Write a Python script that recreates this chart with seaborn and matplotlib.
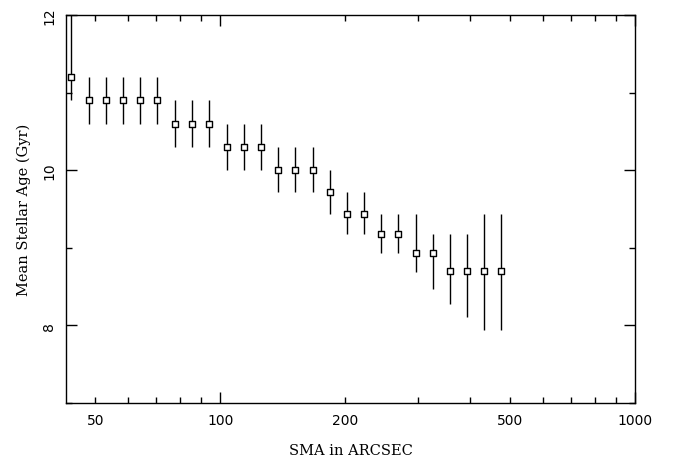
import matplotlib
matplotlib.use("Agg")
import numpy as np
import pandas as pd
import seaborn as sns
import matplotlib.pyplot as plt
from matplotlib.ticker import FixedLocator, FixedFormatter

# data
sma = [43.7, 48.4, 53.1, 58.4, 64.1, 70.5, 77.9, 85.6, 94.1, 103.9, 114.2, 125.5,
       137.9, 151.6, 167.4, 184.0, 202.2, 222.2, 244.3, 268.5, 296.4, 325.8,
       358.1, 393.6, 432.6, 475.5]
age = [11.2, 10.9, 10.9, 10.9, 10.9, 10.9, 10.6, 10.6, 10.6, 10.3, 10.3, 10.3,
       10.0, 10.0, 10.0, 9.72, 9.44, 9.44, 9.18, 9.18, 8.93, 8.93,
       8.70, 8.70, 8.70, 8.70]
age_hi = [12.5, 11.2, 11.2, 11.2, 11.2, 11.2, 10.9, 10.9, 10.9, 10.6, 10.6, 10.6,
          10.3, 10.3, 10.3, 10.0, 9.72, 9.72, 9.44, 9.44, 9.44, 9.18,
          9.18, 9.18, 9.44, 9.44]
age_lo = [10.9, 10.6, 10.6, 10.6, 10.6, 10.6, 10.3, 10.3, 10.3, 10.0, 10.0, 10.0,
          9.72, 9.72, 9.72, 9.44, 9.18, 9.18, 8.93, 8.93, 8.69, 8.47,
          8.28, 8.11, 7.94, 7.94]

xtick_major = [100, 1000]
xtick_minor = [50, 60, 70, 80, 90, 200, 300, 400, 500, 600, 700, 800, 900]
xtick_minor_labels = ["50", "", "", "", "", "200", "", "", "500", "", "", "", ""]
ytick_major = [8, 10, 12]
ytick_minor = [7, 9, 11]

df = pd.DataFrame({"sma": sma, "age": age, "hi": age_hi, "lo": age_lo})

sns.set_style("ticks")
plt.rcParams["font.family"] = ["DejaVu Sans"]
plt.rcParams["text.color"] = "black"
plt.rcParams["axes.labelcolor"] = "black"
plt.rcParams["xtick.color"] = "black"
plt.rcParams["ytick.color"] = "black"

fig = plt.figure(figsize=(6.75, 4.64), dpi=100)
ax = fig.add_axes([66 / 675, 1 - 404 / 464, (635 - 66) / 675, (404 - 16) / 464])

ax.errorbar(df["sma"], df["age"],
            yerr=[df["age"] - df["lo"], df["hi"] - df["age"]],
            fmt="none", ecolor="black", elinewidth=1.0, capsize=0, zorder=2)
sns.scatterplot(data=df, x="sma", y="age", ax=ax, marker="s", s=24,
                facecolor="white", edgecolor="black", linewidth=1.0, zorder=3)

ax.set_xscale("log")
ax.set_xlim(42.5, 1000)
ax.set_ylim(7, 12)

ax.xaxis.set_major_locator(FixedLocator(xtick_major))
ax.xaxis.set_major_formatter(FixedFormatter([str(v) for v in xtick_major]))
ax.xaxis.set_minor_locator(FixedLocator(xtick_minor))
ax.xaxis.set_minor_formatter(FixedFormatter(xtick_minor_labels))
ax.yaxis.set_major_locator(FixedLocator(ytick_major))
ax.yaxis.set_major_formatter(FixedFormatter([str(v) for v in ytick_major]))
ax.yaxis.set_minor_locator(FixedLocator(ytick_minor))

ax.tick_params(axis="both", which="both", direction="in", top=True, right=True,
               color="black", labelcolor="black", width=1.0, labelsize=10, pad=7)
ax.tick_params(axis="both", which="major", length=8)
ax.tick_params(axis="both", which="minor", length=4)
for lab in ax.get_yticklabels():
    lab.set_rotation(90)
    lab.set_va("center")

for sp in ax.spines.values():
    sp.set_visible(True)
    sp.set_color("black")
    sp.set_linewidth(1.0)

ax.set_xlabel("SMA in ARCSEC", family="DejaVu Serif", fontsize=10.5,
              labelpad=12, color="black")
ax.set_ylabel("Mean Stellar Age (Gyr)", family="DejaVu Serif", fontsize=10.5,
              labelpad=8, color="black")

fig.savefig("out.png", dpi=100)
